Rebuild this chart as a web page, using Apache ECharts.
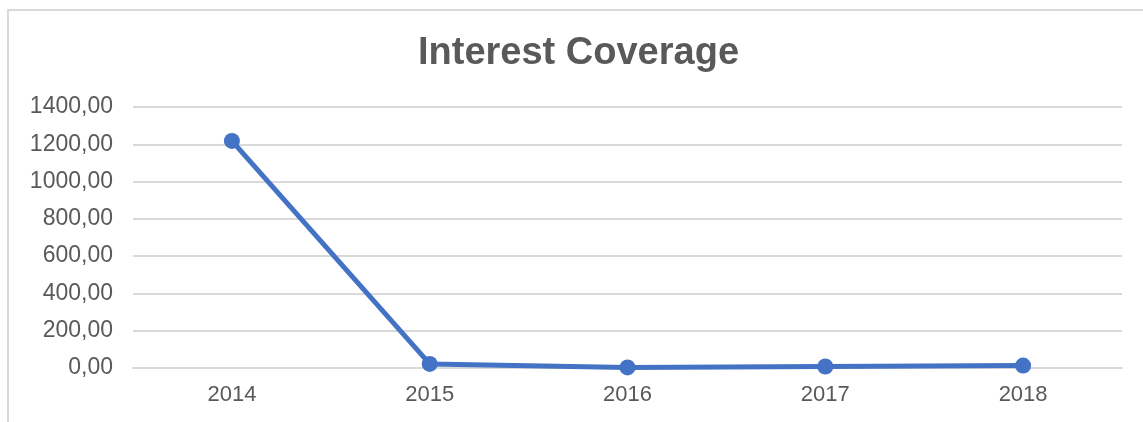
<!DOCTYPE html>
<html>
<head>
<meta charset="utf-8">
<script src="https://cdn.jsdelivr.net/npm/echarts@6/dist/echarts.min.js"></script>
<style>html,body{margin:0;padding:0;background:#fff;}#c{width:1143px;height:422px;}</style>
</head>
<body>
<div id="c"></div>
<script>
var categories = ['2014', '2015', '2016', '2017', '2018'];
var coverage = [1218, 22, 3, 8, 13];
var yMin = 0, yMax = 1400, yStep = 200;

var chart = echarts.init(document.getElementById('c'));
chart.setOption({
  animation: false,
  backgroundColor: '#fff',
  graphic: [{
    type: 'rect',
    shape: { x: 8, y: 10, width: 1300, height: 600 },
    style: { fill: 'none', stroke: '#D9D9D9', lineWidth: 2 },
    silent: true
  }],
  title: {
    text: 'Interest Coverage',
    left: 418,
    top: 35,
    padding: 0,
    textStyle: { fontFamily: 'Liberation Sans', fontSize: 38, fontWeight: 'bold', color: '#595959' }
  },
  grid: { left: 133, right: 21, top: 107, bottom: 54, containLabel: false },
  xAxis: {
    type: 'category',
    data: categories,
    boundaryGap: true,
    axisLine: { show: true, lineStyle: { color: '#D9D9D9', width: 2 } },
    axisTick: { show: false },
    axisLabel: { color: '#595959', fontFamily: 'Liberation Sans', fontSize: 22, margin: 16 }
  },
  yAxis: {
    type: 'value',
    min: yMin, max: yMax, interval: yStep,
    axisLine: { show: false },
    axisTick: { show: false },
    splitLine: { lineStyle: { color: '#D9D9D9', width: 2 } },
    axisLabel: {
      color: '#595959', fontFamily: 'Liberation Sans', fontSize: 23, margin: 20,
      formatter: function (v) { return v.toFixed(2).replace('.', ','); }
    }
  },
  series: [{
    type: 'line',
    data: coverage,
    symbol: 'circle',
    symbolSize: 16,
    lineStyle: { color: '#4472C4', width: 5 },
    itemStyle: { color: '#4472C4' }
  }]
});
</script>
</body>
</html>
